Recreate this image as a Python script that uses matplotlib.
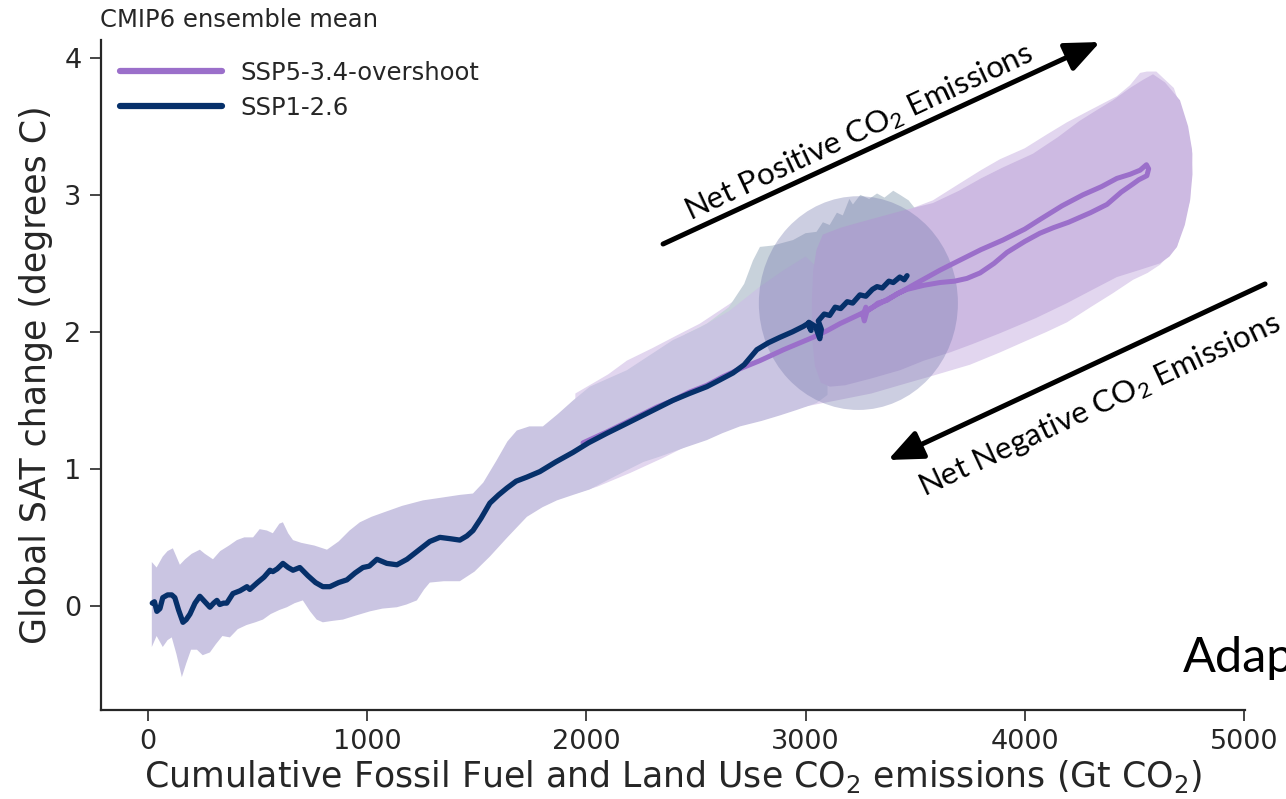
import matplotlib
matplotlib.use('Agg')
import matplotlib.pyplot as plt
from matplotlib.patches import Ellipse
import seaborn as sns

# SSP1-2.6 ensemble mean (historical + future), cumulative emissions (Gt CO2) vs warming (C)
ssp126_emis = [20, 30, 41, 55, 68, 90, 109, 123, 140, 160, 175, 192, 215, 237, 260, 283, 300, 315, 328, 345,
               360, 388, 420, 452, 465, 500, 530, 557, 570, 590, 616, 640, 662, 693, 730, 765, 798, 830, 870, 908,
               945, 981, 1010, 1045, 1090, 1136, 1182, 1230, 1286, 1332, 1380, 1423, 1455, 1483, 1520, 1560, 1600,
               1638, 1680, 1729, 1788, 1860, 1939, 2010, 2094, 2170, 2245, 2320, 2395, 2470, 2550, 2610, 2669,
               2720, 2778, 2830, 2883, 2940, 2990, 3010, 3025, 3015, 3045, 3065, 3072, 3058, 3085, 3110, 3135,
               3160, 3190, 3215, 3248, 3275, 3305, 3326, 3350, 3380, 3400, 3430, 3450, 3463]
ssp126_temp = [0.02, 0.03, -0.04, -0.02, 0.06, 0.08, 0.08, 0.06, -0.03, -0.12, -0.10, -0.06, 0.02, 0.07, 0.03,
               -0.01, 0.02, 0.04, 0.01, 0.02, 0.02, 0.09, 0.11, 0.14, 0.12, 0.17, 0.21, 0.26, 0.25, 0.27, 0.31,
               0.28, 0.26, 0.28, 0.22, 0.17, 0.14, 0.14, 0.17, 0.19, 0.24, 0.28, 0.29, 0.34, 0.31, 0.30, 0.34,
               0.40, 0.47, 0.50, 0.49, 0.48, 0.51, 0.55, 0.64, 0.75, 0.81, 0.86, 0.91, 0.94, 0.98, 1.05, 1.12,
               1.19, 1.26, 1.32, 1.38, 1.44, 1.50, 1.55, 1.60, 1.65, 1.70, 1.76, 1.87, 1.92, 1.96, 2.00, 2.04,
               2.06, 2.01, 2.07, 2.04, 1.95, 2.02, 2.08, 2.13, 2.12, 2.18, 2.17, 2.22, 2.21, 2.27, 2.26, 2.31,
               2.33, 2.32, 2.37, 2.36, 2.40, 2.38, 2.41]

# SSP5-3.4-overshoot ensemble mean: out to the peak and back again
os_emis = [1985, 2094, 2170, 2245, 2320, 2395, 2470, 2550, 2620, 2700, 2792, 2900, 3034, 3100, 3157, 3250,
           3330, 3400, 3500, 3613, 3700, 3800, 3900, 4000, 4069, 4170, 4265, 4350, 4420, 4480, 4526, 4555,
           4565, 4557, 4520, 4494, 4440, 4375, 4300, 4200, 4130, 4069, 4000, 3919, 3860, 3796, 3736, 3680,
           3613, 3540, 3463, 3420, 3371, 3330, 3307, 3280, 3268, 3262, 3275]
os_temp = [1.19, 1.27, 1.33, 1.39, 1.45, 1.50, 1.56, 1.61, 1.67, 1.73, 1.79, 1.87, 1.96, 2.01, 2.06, 2.13,
           2.20, 2.26, 2.35, 2.45, 2.52, 2.60, 2.67, 2.75, 2.82, 2.92, 3.00, 3.06, 3.12, 3.15, 3.18, 3.22,
           3.19, 3.14, 3.11, 3.08, 3.02, 2.93, 2.87, 2.80, 2.76, 2.72, 2.66, 2.58, 2.50, 2.43, 2.39, 2.37,
           2.36, 2.34, 2.31, 2.28, 2.23, 2.21, 2.18, 2.15, 2.08, 2.12, 2.18]

# model spread, SSP1-2.6 (historical part first)
spread126_emis = [18, 40, 68, 90, 114, 130, 146, 170, 200, 237, 260, 297, 330, 370, 406, 440, 480, 510, 543,
                  570, 600, 616, 640, 662, 700, 760, 817, 870, 920, 967, 1020, 1072, 1160, 1255, 1340, 1423,
                  1483, 1530, 1590, 1640, 1683, 1740, 1802, 1870, 1940, 2016, 2100, 2185, 2290, 2395, 2518,
                  2650, 2792, 2900, 3000, 3100,
                  3100, 3050, 2960, 2883, 2800, 2701, 2620, 2550, 2440, 2336, 2260, 2185, 2100, 2016, 1940,
                  1866, 1800, 1729, 1640, 1560, 1490, 1423, 1350, 1286, 1260, 1227, 1180, 1136, 1070, 1013,
                  950, 890, 840, 798, 770, 740, 707, 670, 634, 600, 560, 525, 490, 450, 410, 374, 340, 310,
                  283, 250, 224, 197, 175, 155, 130, 109, 90, 68, 40, 18]
spread126_temp = [0.32, 0.28, 0.36, 0.40, 0.42, 0.36, 0.30, 0.34, 0.38, 0.41, 0.38, 0.34, 0.40, 0.44, 0.48,
                  0.50, 0.50, 0.56, 0.55, 0.53, 0.60, 0.61, 0.53, 0.48, 0.46, 0.44, 0.41, 0.47, 0.55, 0.61,
                  0.65, 0.68, 0.73, 0.77, 0.79, 0.81, 0.82, 0.90, 1.06, 1.20, 1.28, 1.31, 1.31, 1.40, 1.50,
                  1.60, 1.66, 1.72, 1.83, 1.94, 2.03, 2.15, 2.33, 2.45, 2.55, 2.40,
                  1.54, 1.48, 1.43, 1.39, 1.35, 1.31, 1.26, 1.21, 1.15, 1.09, 1.05, 0.99, 0.92, 0.85, 0.81,
                  0.77, 0.72, 0.65, 0.50, 0.36, 0.25, 0.18, 0.18, 0.17, 0.12, 0.04, 0.01, -0.01, -0.02,
                  -0.04, -0.07, -0.10, -0.11, -0.12, -0.10, -0.04, 0.04, 0.02, -0.01, -0.03, -0.06, -0.10,
                  -0.12, -0.14, -0.17, -0.23, -0.22, -0.28, -0.34, -0.36, -0.32, -0.32, -0.42, -0.52, -0.35,
                  -0.23, -0.25, -0.30, -0.22, -0.30]

# upper part of the SSP1-2.6 spread late in the century
upper126_emis = [2450, 2550, 2650, 2720, 2760, 2792, 2850, 2943, 3000, 3050, 3079, 3110, 3143, 3170, 3200,
                 3216, 3250, 3290, 3326, 3360, 3400, 3431, 3470, 3500, 3500, 3000, 2450]
upper126_temp = [1.98, 2.06, 2.18, 2.35, 2.52, 2.62, 2.63, 2.67, 2.72, 2.73, 2.80, 2.78, 2.87, 2.85, 2.97,
                 2.93, 3.00, 2.97, 3.01, 2.98, 3.03, 3.00, 2.96, 2.90, 2.00, 1.70, 1.50]

# SSP1-2.6 spread at 2100
end126_emis, end126_emis_range = 3241, 908
end126_temp, end126_temp_range = 2.21, 1.56

# SSP5-3.4-overshoot spread, outer envelope
outer_os_emis = [1950, 2100, 2185, 2300, 2420, 2518, 2650, 2792, 2950, 3100, 3250, 3400, 3581, 3700, 3800,
                 3887, 4000, 4100, 4193, 4300, 4420, 4480, 4526, 4557, 4600, 4680, 4740, 4765, 4754, 4694,
                 4617, 4560, 4494, 4400, 4300, 4193, 4100, 4000, 3887, 3750, 3581, 3450, 3300, 3143, 2950,
                 2800, 2650, 2500, 2350, 2200, 2050, 1950]
outer_os_temp = [1.55, 1.69, 1.79, 1.88, 1.98, 2.06, 2.20, 2.36, 2.50, 2.62, 2.73, 2.85, 2.96, 3.08, 3.18,
                 3.26, 3.34, 3.44, 3.53, 3.62, 3.72, 3.80, 3.89, 3.90, 3.90, 3.78, 3.50, 3.30, 2.96, 2.62,
                 2.49, 2.43, 2.38, 2.28, 2.18, 2.07, 2.00, 1.93, 1.85, 1.76, 1.68, 1.62, 1.55, 1.50, 1.44,
                 1.39, 1.31, 1.20, 1.08, 0.97, 0.87, 0.82]

# SSP5-3.4-overshoot spread after the peak
inner_os_emis = [3079, 3160, 3248, 3340, 3431, 3581, 3700, 3800, 3900, 4037, 4150, 4250, 4330, 4402, 4480,
                 4540, 4585, 4640, 4708, 4745, 4763, 4765, 4754, 4730, 4694, 4660, 4617, 4520, 4420, 4300,
                 4193, 4050, 3887, 3760, 3659, 3540, 3431, 3300, 3180, 3111, 3070, 3043, 3030, 3029, 3035,
                 3050]
inner_os_temp = [2.71, 2.76, 2.80, 2.84, 2.88, 2.94, 3.03, 3.12, 3.20, 3.30, 3.42, 3.54, 3.62, 3.69, 3.78,
                 3.84, 3.88, 3.82, 3.69, 3.50, 3.33, 3.15, 2.96, 2.78, 2.62, 2.55, 2.50, 2.45, 2.40, 2.30,
                 2.21, 2.10, 1.99, 1.91, 1.85, 1.79, 1.72, 1.66, 1.61, 1.60, 1.63, 1.75, 1.95, 2.23, 2.45,
                 2.60]

x_ticks = [0, 1000, 2000, 3000, 4000, 5000]
y_ticks = [0, 1, 2, 3, 4]

purple = '#9b6fca'
navy = '#06306a'

sns.set_style('ticks')
plt.rcParams['font.family'] = ['DejaVu Sans']
plt.rcParams['mathtext.rm'] = 'Lato'
plt.rcParams['mathtext.it'] = 'Lato:italic'
plt.rcParams['mathtext.bf'] = 'Lato:bold'
plt.rcParams['text.color'] = '#262626'

fig = plt.figure(figsize=(12.86, 7.99), dpi=100)
ax = fig.add_axes([0.0785, 0.1114, 0.8897, 0.8385])

ax.fill(outer_os_emis, outer_os_temp, color='#e2d6ef', lw=0, zorder=1)
ax.fill(upper126_emis, upper126_temp, color='#c8d2db', lw=0, zorder=2)
ax.fill(spread126_emis, spread126_temp, color='#cac5e2', lw=0, zorder=3)
ax.fill(inner_os_emis, inner_os_temp, color='#cdbae2', lw=0, zorder=4)
ax.add_patch(Ellipse((end126_emis, end126_temp), end126_emis_range, end126_temp_range,
                     color='#7478ac', alpha=0.36, lw=0, zorder=5))

ax.plot(os_emis, os_temp, color=purple, lw=3.6, solid_capstyle='round', zorder=6,
        label='SSP5-3.4-overshoot')
ax.plot(ssp126_emis, ssp126_temp, color=navy, lw=3.8, solid_capstyle='round', zorder=7,
        label='SSP1-2.6')

ax.set_xlim(-214, 5005)
ax.set_ylim(-0.76, 4.13)
ax.set_xticks(x_ticks)
ax.set_yticks(y_ticks)
ax.tick_params(labelsize=19.5, length=8, width=1.2, colors='#262626', pad=6)
for s in ['left', 'bottom']:
    ax.spines[s].set_linewidth(1.6)
    ax.spines[s].set_color('#262626')
sns.despine(ax=ax)

ax.set_xlabel('Cumulative Fossil Fuel and Land Use CO$_2$ emissions (Gt CO$_2$)', fontsize=25,
              labelpad=2)
ax.set_ylabel('Global SAT change (degrees C)', fontsize=25, labelpad=8)

leg = ax.legend(loc='upper left', bbox_to_anchor=(0.0, 0.998), frameon=False, fontsize=17.5,
                handlelength=4.2, handletextpad=0.75, labelspacing=0.45, borderpad=0.3)
for line in leg.get_lines():
    line.set_linewidth(4.5)

fig.text(100 / 1286, 1 - 20 / 799, 'CMIP6 ensemble mean', fontsize=17.5, va='center', ha='left')

# direction of travel along the curves
ax.annotate('', xy=(0.8554, 0.9474), xytext=(0.5156, 0.6946), xycoords='figure fraction',
            arrowprops=dict(arrowstyle='-|>,head_length=0.7,head_width=0.3', lw=3.6, color='black',
                            mutation_scale=30, shrinkA=0, shrinkB=0))
ax.annotate('', xy=(0.6905, 0.4243), xytext=(0.9837, 0.6446), xycoords='figure fraction',
            arrowprops=dict(arrowstyle='-|>,head_length=0.7,head_width=0.3', lw=3.6, color='black',
                            mutation_scale=30, shrinkA=0, shrinkB=0))
fig.text(0.668, 0.835, 'Net Positive CO$_2$ Emissions', family='Lato', math_fontfamily='custom',
         fontsize=22.6, rotation=25, rotation_mode='anchor', ha='center', va='center', color='black')
fig.text(0.855, 0.493, 'Net Negative CO$_2$ Emissions', family='Lato', math_fontfamily='custom',
         fontsize=22.6, rotation=25, rotation_mode='anchor', ha='center', va='center', color='black')
fig.text(1183 / 1286, 1 - 672 / 799, 'Adapted', family='Lato', fontsize=35, ha='left',
         va='baseline', color='black')

fig.savefig('out.png', dpi=100)
